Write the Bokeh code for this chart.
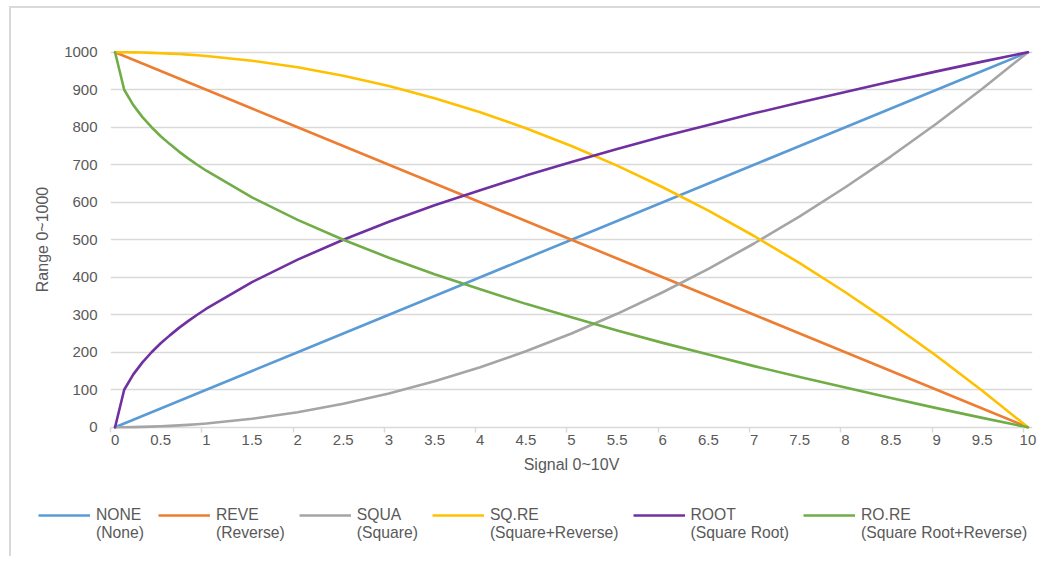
from bokeh.plotting import figure
from bokeh.models import Range1d, FixedTicker, Legend, LegendItem
from bokeh.embed import file_html
from bokeh.resources import INLINE

# ---- data ----
signal = [0, 0.1, 0.2, 0.3, 0.4, 0.5, 0.6, 0.7, 0.8, 0.9, 1.0,
          1.5, 2, 2.5, 3, 3.5, 4, 4.5, 5, 5.5, 6, 6.5, 7, 7.5, 8, 8.5, 9, 9.5, 10]
none_vals = [0, 10, 20, 30, 40, 50, 60, 70, 80, 90, 100,
             150, 200, 250, 300, 350, 400, 450, 500, 550, 600, 650, 700, 750, 800, 850, 900, 950, 1000]
reve_vals = [1000, 990, 980, 970, 960, 950, 940, 930, 920, 910, 900,
             850, 800, 750, 700, 650, 600, 550, 500, 450, 400, 350, 300, 250, 200, 150, 100, 50, 0]
squa_vals = [0, 0.1, 0.4, 0.9, 1.6, 2.5, 3.6, 4.9, 6.4, 8.1, 10,
             22.5, 40, 62.5, 90, 122.5, 160, 202.5, 250, 302.5, 360, 422.5, 490, 562.5, 640, 722.5, 810, 902.5, 1000]
sqre_vals = [1000, 999.9, 999.6, 999.1, 998.4, 997.5, 996.4, 995.1, 993.6, 991.9, 990,
             977.5, 960, 937.5, 910, 877.5, 840, 797.5, 750, 697.5, 640, 577.5, 510, 437.5, 360, 277.5, 190, 97.5, 0]
root_vals = [0, 100, 141, 173, 200, 224, 245, 265, 283, 300, 316,
             387, 447, 500, 548, 592, 632, 671, 707, 742, 775, 806, 837, 866, 894, 922, 949, 975, 1000]
rore_vals = [1000, 900, 859, 827, 800, 776, 755, 735, 717, 700, 684,
             613, 553, 500, 452, 408, 368, 329, 293, 258, 225, 194, 163, 134, 106, 78, 51, 25, 0]

series_codes = ["NONE", "REVE", "SQUA", "SQ.RE", "ROOT", "RO.RE"]
series_desc = ["(None)", "(Reverse)", "(Square)", "(Square+Reverse)", "(Square Root)", "(Square Root+Reverse)"]
series_vals = [none_vals, reve_vals, squa_vals, sqre_vals, root_vals, rore_vals]
colors = ["#5B9BD5", "#ED7D31", "#A5A5A5", "#FFC000", "#7030A0", "#70AD47"]

x_labels = [i * 0.5 for i in range(21)]
x_boundaries = [k - 0.05 for k in range(11)]
y_labels = list(range(0, 1001, 100))

FONT = "Liberation Sans"
TXT = "#595959"
GRID = "#d9d9d9"

p = figure(width=1031, height=480, output_backend="svg", toolbar_location=None,
           x_range=Range1d(-0.05, 10.05), y_range=Range1d(-6, 1007.3),
           min_border_left=99, min_border_right=10, min_border_top=41, min_border_bottom=59)
p.styles = {"border-left": "2px solid #d9d9d9", "border-top": "2px solid #d9d9d9",
            "margin-left": "9px", "margin-top": "6px"}
p.outline_line_color = None
p.background_fill_color = "white"
p.border_fill_color = "white"

for vals, c in zip(series_vals, colors):
    p.line(signal, vals, line_color=c, line_width=2.6, line_join="round", line_cap="round")

# axes
xa = p.xaxis[0]
xa.ticker = FixedTicker(ticks=x_labels, minor_ticks=x_boundaries)
xa.axis_line_color = None
xa.major_tick_line_color = None
xa.major_tick_out = 0
xa.major_tick_in = 0
xa.minor_tick_line_color = GRID
xa.minor_tick_line_width = 1.5
xa.minor_tick_out = 3
xa.minor_tick_in = 2
xa.major_label_standoff = 2
xa.major_label_text_font = FONT
xa.major_label_text_font_size = "15px"
xa.major_label_text_color = TXT
xa.axis_label = "Signal 0~10V"
xa.axis_label_text_font = FONT
xa.axis_label_text_font_size = "16px"
xa.axis_label_text_font_style = "normal"
xa.axis_label_text_color = TXT
xa.axis_label_standoff = 8

ya = p.yaxis[0]
ya.ticker = FixedTicker(ticks=y_labels)
ya.axis_line_color = None
ya.major_tick_line_color = None
ya.minor_tick_line_color = None
ya.major_tick_out = 0
ya.major_label_standoff = 13
ya.major_label_text_font = FONT
ya.major_label_text_font_size = "15px"
ya.major_label_text_color = TXT
ya.axis_label = "Range 0~1000"
ya.axis_label_text_font = FONT
ya.axis_label_text_font_size = "16px"
ya.axis_label_text_font_style = "normal"
ya.axis_label_text_color = TXT
ya.axis_label_standoff = 10

p.xgrid.grid_line_color = None
p.ygrid.ticker = FixedTicker(ticks=y_labels)
p.ygrid.grid_line_color = GRID
p.ygrid.grid_line_width = 1.5

# legend panel: same series drawn again, kept outside the visible range, so only the legend shows
q = figure(width=1031, height=70, output_backend="svg", toolbar_location=None,
           x_range=Range1d(100, 101), y_range=Range1d(0, 1),
           min_border=0, x_axis_type=None, y_axis_type=None)
q.styles = {"border-left": "2px solid #d9d9d9", "margin-left": "9px"}
q.outline_line_color = None
q.grid.visible = False
q.background_fill_color = "white"
q.border_fill_color = "white"
leg_renderers = []
for vals, c in zip(series_vals, colors):
    leg_renderers.append(q.line(signal, vals, line_color=c, line_width=2.6))

# a blank first line keeps the legend line level with the series code
labels = ["\n" + a + "\n" + b for a, b in zip(series_codes, series_desc)]
legend = Legend(items=[LegendItem(label=n, renderers=[r]) for n, r in zip(labels, leg_renderers)],
                orientation="horizontal", location=(27, 14),
                glyph_width=52, glyph_height=20, label_standoff=6, spacing=14,
                padding=0, margin=0, border_line_color=None, background_fill_alpha=0,
                label_text_font=FONT, label_text_font_size="15.7px", label_text_color=TXT,
                label_text_line_height=1.25)
q.add_layout(legend, "center")

open("out.html", "w").write(file_html((p, q), INLINE))
